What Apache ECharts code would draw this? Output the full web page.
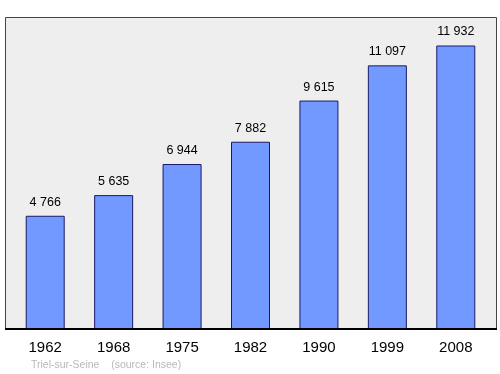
<!DOCTYPE html>
<html><head><meta charset="utf-8">
<script src="https://cdn.jsdelivr.net/npm/echarts@6/dist/echarts.min.js"></script>
<style>html,body{margin:0;padding:0;background:#fff}#c{width:500px;height:374px}</style>
</head><body><div id="c"></div>
<script>
const years = ['1962','1968','1975','1982','1990','1999','2008'];
const population = [4766, 5635, 6944, 7882, 9615, 11097, 11932];
const footer = 'Triel-sur-Seine    (source: Insee)';

const chart = echarts.init(document.getElementById('c'), null, {renderer:'canvas'});
const fmt = v => String(v).replace(/\B(?=(\d{3})+(?!\d))/g, ' ');
const FF = '"Liberation Sans", Arial, sans-serif';
chart.setOption({
  animation: false,
  graphic: [
    {type:'rect', z:-10, shape:{x:5.5,y:17.5,width:491,height:311}, style:{fill:'#eeeeee', stroke:'#444', lineWidth:1}},
    {type:'line', z:10, shape:{x1:5,y1:329,x2:497,y2:329}, style:{stroke:'#000', lineWidth:2}},
    {type:'text', left:31, top:360, style:{text:footer, fill:'#b8b8b8', font:'10.5px ' + FF}}
  ],
  grid: {left:11, right:10, top:18, bottom:45},
  xAxis: {
    type:'category', data: years,
    axisLine:{show:false}, axisTick:{show:false},
    axisLabel:{color:'#000', fontSize:15, fontFamily:FF, margin:11}
  },
  yAxis: {type:'value', min:0, max:13090, show:false, splitLine:{show:false}},
  series: [{
    type:'bar', data: population, barWidth:39,
    itemStyle:{color:'#7199ff', borderColor:'#1a1a66', borderWidth:1},
    label:{show:true, position:'top', distance:7, color:'#000', fontSize:12.5,
      fontFamily:FF, formatter: p => fmt(p.value)}
  }]
});
</script></body></html>
